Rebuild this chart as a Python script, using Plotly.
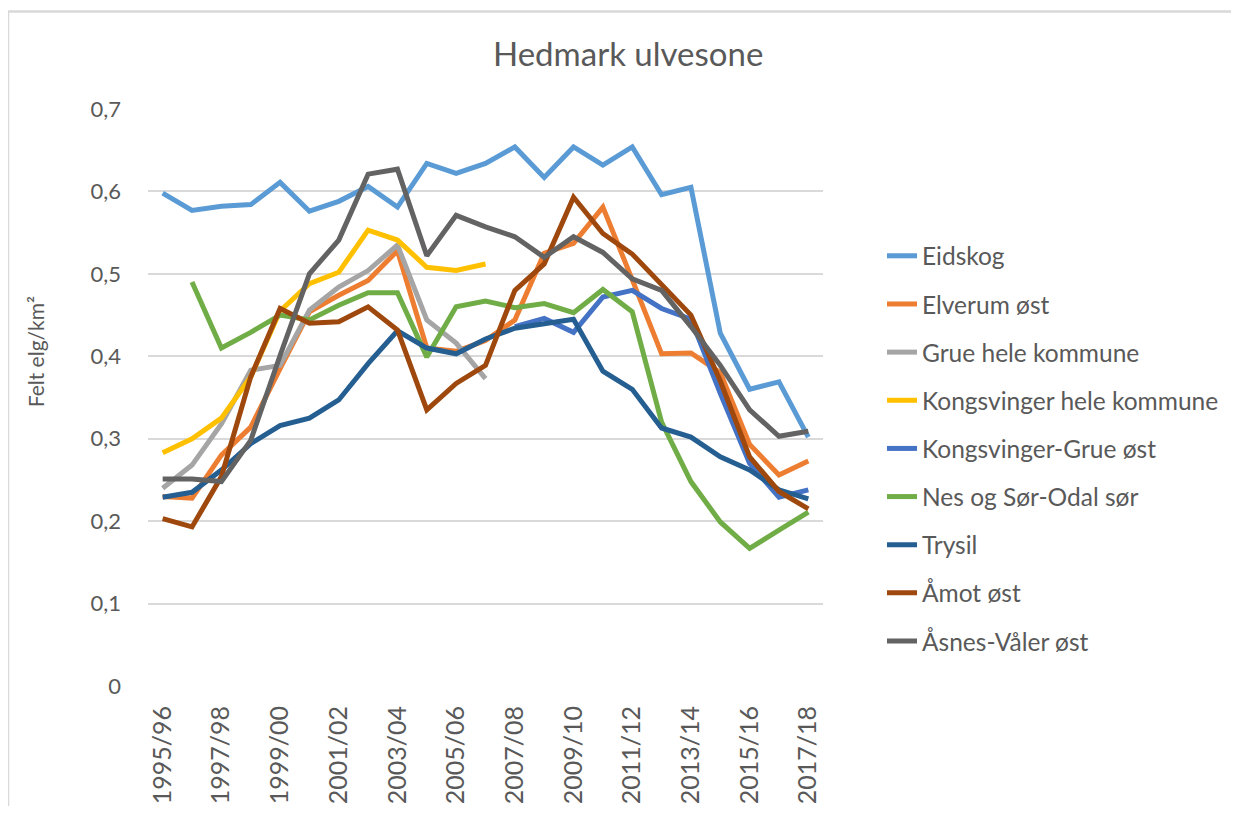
import plotly.graph_objects as go

seasons = ["1995/96", "1996/97", "1997/98", "1998/99", "1999/00", "2000/01", "2001/02",
           "2002/03", "2003/04", "2004/05", "2005/06", "2006/07", "2007/08", "2008/09",
           "2009/10", "2010/11", "2011/12", "2012/13", "2013/14", "2014/15", "2015/16",
           "2016/17", "2017/18"]

eidskog = [0.598, 0.577, 0.582, 0.584, 0.611, 0.576, 0.588, 0.606, 0.581, 0.634, 0.622, 0.634,
           0.654, 0.617, 0.654, 0.632, 0.654, 0.596, 0.605, 0.428, 0.360, 0.369, 0.302]
elverum_ost = [0.230, 0.228, 0.280, 0.314, 0.385, 0.454, 0.474, 0.492, 0.528, 0.410, 0.406, 0.419,
               0.444, 0.525, 0.537, 0.581, 0.493, 0.403, 0.404, 0.380, 0.293, 0.256, 0.273]
grue_hele = [0.240, 0.268, 0.318, 0.383, 0.389, 0.456, 0.484, 0.504, 0.535, 0.444, 0.416, 0.373,
             None, None, None, None, None, None, None, None, None, None, None]
kongsvinger_hele = [0.283, 0.300, 0.325, 0.375, 0.455, 0.488, 0.502, 0.553, 0.541, 0.508, 0.504, 0.512,
                    None, None, None, None, None, None, None, None, None, None, None]
kongsvinger_grue_ost = [None, None, None, None, None, None, None, None, None, None, None, None,
                        0.436, 0.446, 0.429, 0.472, 0.480, 0.458, 0.445, 0.355, 0.270, 0.229, 0.238]
nes_sor_odal = [None, 0.490, 0.410, 0.429, 0.450, 0.444, 0.462, 0.477, 0.477, 0.399, 0.460, 0.467,
                0.459, 0.464, 0.453, 0.481, 0.454, 0.320, 0.248, 0.199, 0.167, 0.189, 0.211]
trysil = [0.229, 0.235, 0.262, 0.294, 0.316, 0.325, 0.347, 0.391, 0.431, 0.410, 0.403, 0.421,
          0.434, 0.440, 0.445, 0.382, 0.360, 0.313, 0.302, 0.278, 0.262, 0.238, 0.227]
amot_ost = [0.203, 0.193, 0.254, 0.375, 0.458, 0.440, 0.442, 0.460, 0.432, 0.335, 0.367, 0.389,
            0.480, 0.512, 0.593, 0.549, 0.524, 0.486, 0.450, 0.370, 0.278, 0.236, 0.215]
asnes_valer_ost = [0.251, 0.251, 0.248, 0.298, 0.401, 0.500, 0.541, 0.621, 0.627, 0.522, 0.571, 0.557,
                   0.545, 0.520, 0.545, 0.526, 0.494, 0.480, 0.436, 0.389, 0.335, 0.303, 0.309]

series_names = ["Eidskog", "Elverum øst", "Grue hele kommune", "Kongsvinger hele kommune",
                "Kongsvinger-Grue øst", "Nes og Sør-Odal sør", "Trysil", "Åmot øst",
                "Åsnes-Våler øst"]
series_values = [eidskog, elverum_ost, grue_hele, kongsvinger_hele, kongsvinger_grue_ost,
                 nes_sor_odal, trysil, amot_ost, asnes_valer_ost]
colors = ["#5B9BD5", "#ED7D31", "#A5A5A5", "#FFC000", "#4472C4", "#70AD47", "#255E91",
          "#9E480E", "#636363"]

y_ticks = [0, 0.1, 0.2, 0.3, 0.4, 0.5, 0.6, 0.7]
y_labels = ["0", "0,1", "0,2", "0,3", "0,4", "0,5", "0,6", "0,7"]

title_text = "Hedmark ulvesone"
y_title = "Felt elg/km²"

FONT = "Lato, Carlito, Calibri, sans-serif"
TXT = "#595959"

fig = go.Figure()
for name, vals, col in zip(series_names, series_values, colors):
    fig.add_trace(go.Scatter(
        x=seasons, y=vals, name=name, mode="lines",
        line=dict(color=col, width=5),
        legendgroup=name, connectgaps=False,
    ))

# the page body adds an 8px margin; work in page pixels and convert
OFF = 8
W, H = 1239 - 2 * OFF, 814 - 2 * OFF
L = 148 - OFF
T = 108.5 - OFF
Rp = 823 - OFF
Bp = 686 - OFF
R = W - Rp
B = H - Bp
pw = Rp - L
ph = Bp - T

def px(x):
    return (x - OFF - L) / pw

def py(y):
    return (Bp - (y - OFF)) / ph

fig.update_layout(
    width=W, height=H,
    margin=dict(l=L, r=R, t=T, b=B, autoexpand=False),
    paper_bgcolor="white", plot_bgcolor="white",
    font=dict(family=FONT, color=TXT, size=24),
    showlegend=True,
    legend=dict(
        x=px(882), y=py(233), xanchor="left", yanchor="top",
        font=dict(family=FONT, size=24.5, color=TXT),
        tracegroupgap=13.3, bgcolor="rgba(0,0,0,0)",
    ),
    xaxis=dict(
        type="category", categoryorder="array", categoryarray=seasons,
        range=[-0.5, len(seasons) - 0.5],
        tickmode="linear", tick0=0, dtick=2,
        tickangle=-90, showgrid=False, zeroline=False, showline=False,
        ticks="", ticklabelstandoff=14,
        tickfont=dict(family=FONT, size=25, color=TXT),
    ),
    yaxis=dict(
        range=[0, 0.7], tickvals=y_ticks, ticktext=y_labels,
        showgrid=True, gridcolor="#D9D9D9", gridwidth=1.6,
        zeroline=False, showline=False, ticks="", ticklabelstandoff=26,
        tickfont=dict(family=FONT, size=22, color=TXT),
    ),
    annotations=[
        dict(text=title_text, x=px(628), y=py(52), xref="paper", yref="paper",
             xanchor="center", yanchor="middle", showarrow=False,
             font=dict(family=FONT, size=33, color=TXT)),
        dict(text=y_title, x=px(35), y=py(352), xref="paper", yref="paper",
             xanchor="center", yanchor="middle", showarrow=False, textangle=-90,
             font=dict(family=FONT, size=21, color=TXT)),
    ],
    shapes=[
        dict(type="rect", xref="paper", yref="paper",
             x0=px(8), x1=px(1270), y0=py(850), y1=py(11),
             line=dict(color="#D9D9D9", width=2.5), fillcolor="rgba(0,0,0,0)", layer="below"),
    ],
)

fig.write_html("out.html")
